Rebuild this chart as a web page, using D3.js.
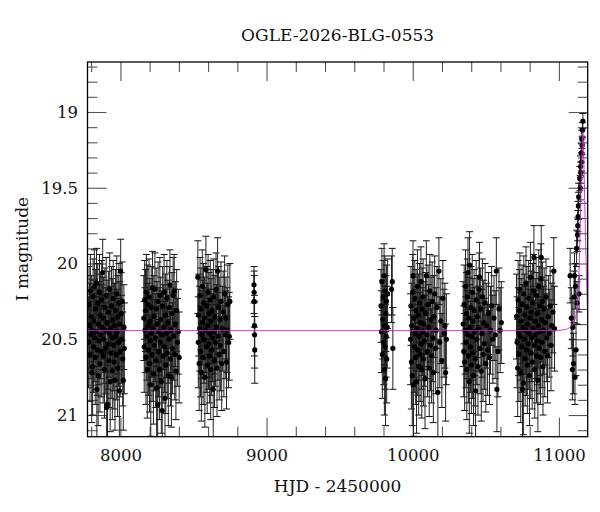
<!DOCTYPE html>
<html>
<head>
<meta charset="utf-8">
<script src="https://cdn.jsdelivr.net/npm/d3@7"></script>
<style>
  body { margin: 0; background: #fff; }
  text { font-family: "DejaVu Serif", serif; fill: #111; }
</style>
</head>
<body>
<svg width="600" height="512"></svg>
<script>
// Light curve: [HJD - 2450000, I mag, error] per observing season
const season2017 = [
  [7783, 20.52, 0.30], [7786, 20.27, 0.25], [7789, 20.41, 0.28], [7792, 20.60, 0.31], [7795, 20.18, 0.24],
  [7798, 20.47, 0.29], [7801, 20.35, 0.27], [7804, 20.72, 0.33], [7807, 20.44, 0.28], [7810, 20.68, 0.32],
  [7813, 20.22, 0.25], [7816, 20.55, 0.30], [7819, 20.38, 0.27], [7822, 20.15, 0.24], [7825, 20.49, 0.29],
  [7828, 20.62, 0.31], [7831, 20.30, 0.26], [7834, 20.45, 0.28], [7837, 20.13, 0.23], [7839, 20.83, 0.34],
  [7842, 20.57, 0.30], [7845, 20.26, 0.26], [7848, 20.74, 0.33], [7851, 20.40, 0.28], [7854, 20.51, 0.29],
  [7857, 20.19, 0.25], [7860, 20.66, 0.32], [7863, 20.34, 0.27], [7866, 20.47, 0.29], [7869, 20.58, 0.30],
  [7872, 20.24, 0.26], [7875, 20.42, 0.28], [7879, 20.06, 0.22], [7882, 20.61, 0.31], [7885, 20.36, 0.27],
  [7888, 20.50, 0.29], [7891, 20.70, 0.32], [7894, 20.29, 0.26], [7897, 20.44, 0.28], [7900, 20.56, 0.30],
  [7903, 20.21, 0.25], [7906, 20.95, 0.36], [7909, 20.39, 0.28], [7912, 20.93, 0.35], [7915, 20.53, 0.30],
  [7918, 20.32, 0.27], [7921, 20.64, 0.31], [7924, 20.46, 0.29], [7927, 20.17, 0.24], [7930, 20.78, 0.33],
  [7933, 20.43, 0.28], [7936, 20.59, 0.30], [7939, 20.28, 0.26], [7942, 20.49, 0.29], [7945, 20.71, 0.32],
  [7948, 20.37, 0.27], [7951, 20.23, 0.25], [7954, 20.54, 0.30], [7957, 20.65, 0.31], [7960, 20.41, 0.28],
  [7963, 20.77, 0.33], [7966, 20.31, 0.27], [7969, 20.48, 0.29], [7972, 20.60, 0.30], [7975, 20.20, 0.25],
  [7978, 20.45, 0.28], [7981, 20.69, 0.32], [7984, 20.35, 0.27], [7987, 20.52, 0.29], [7990, 20.26, 0.26],
  [7993, 20.84, 0.34], [7996, 20.40, 0.28], [7999, 20.58, 0.30], [8002, 20.05, 0.21], [8005, 20.33, 0.27],
  [8008, 20.50, 0.29], [8012, 20.25, 0.26], [8016, 20.63, 0.31], [8020, 20.77, 0.33], [8024, 20.42, 0.28],
  [8027, 20.56, 0.30]
];
const season2018 = [
  [8160, 20.36, 0.28], [8163, 20.55, 0.30], [8166, 20.24, 0.26], [8169, 20.44, 0.28], [8172, 20.31, 0.27],
  [8175, 20.62, 0.31], [8178, 20.19, 0.25], [8181, 20.48, 0.29], [8184, 20.70, 0.32], [8187, 20.27, 0.26],
  [8190, 20.41, 0.28], [8193, 20.57, 0.30], [8196, 20.22, 0.25], [8199, 20.66, 0.32], [8202, 20.38, 0.28],
  [8205, 20.51, 0.29], [8208, 20.80, 0.34], [8211, 20.29, 0.27], [8214, 20.46, 0.29], [8217, 20.60, 0.31],
  [8220, 20.16, 0.24], [8223, 20.43, 0.28], [8226, 20.73, 0.33], [8229, 20.35, 0.27], [8232, 20.54, 0.30],
  [8236, 20.17, 0.24], [8239, 20.49, 0.29], [8242, 20.64, 0.31], [8245, 20.30, 0.27], [8248, 20.82, 0.34],
  [8251, 20.40, 0.28], [8255, 20.93, 0.36], [8258, 20.25, 0.26], [8261, 20.58, 0.30], [8264, 20.45, 0.29],
  [8267, 20.70, 0.33], [8270, 20.21, 0.25], [8273, 20.52, 0.30], [8276, 20.37, 0.28], [8280, 20.78, 0.34],
  [8283, 20.47, 0.29], [8286, 20.97, 0.37], [8289, 20.28, 0.26], [8292, 20.61, 0.31], [8296, 20.42, 0.28],
  [8299, 20.19, 0.25], [8302, 20.55, 0.30], [8305, 20.89, 0.35], [8308, 20.34, 0.27], [8311, 20.67, 0.32],
  [8315, 20.46, 0.29], [8318, 20.23, 0.25], [8321, 20.59, 0.30], [8325, 20.39, 0.28], [8328, 20.74, 0.33],
  [8332, 20.50, 0.29], [8335, 20.29, 0.27], [8339, 20.14, 0.23], [8342, 20.63, 0.31], [8346, 20.44, 0.28],
  [8349, 20.75, 0.33], [8353, 20.33, 0.27], [8357, 20.56, 0.30], [8361, 20.21, 0.25], [8365, 20.48, 0.29],
  [8368, 20.18, 0.24], [8372, 20.60, 0.30], [8376, 20.40, 0.28], [8380, 20.71, 0.32], [8385, 20.31, 0.27],
  [8390, 20.52, 0.29], [8396, 20.45, 0.28], [8402, 20.62, 0.30]
];
const season2019 = [
  [8530, 20.09, 0.24], [8533, 20.52, 0.30], [8536, 20.34, 0.27], [8539, 20.66, 0.31], [8542, 20.43, 0.28],
  [8545, 20.21, 0.25], [8548, 20.58, 0.30], [8551, 20.30, 0.27], [8554, 20.72, 0.32], [8557, 20.47, 0.29],
  [8560, 20.15, 0.24], [8563, 20.39, 0.28], [8566, 20.62, 0.31], [8569, 20.26, 0.26], [8572, 20.50, 0.29],
  [8575, 20.36, 0.27], [8578, 20.75, 0.33], [8581, 20.44, 0.28], [8585, 20.04, 0.22], [8588, 20.55, 0.30],
  [8591, 20.28, 0.26], [8594, 20.67, 0.32], [8597, 20.41, 0.28], [8600, 20.19, 0.25], [8603, 20.53, 0.30],
  [8606, 20.33, 0.27], [8609, 20.61, 0.31], [8612, 20.46, 0.29], [8615, 20.24, 0.26], [8618, 20.70, 0.33],
  [8621, 20.38, 0.28], [8624, 20.57, 0.30], [8627, 20.31, 0.27], [8630, 20.49, 0.29], [8635, 20.83, 0.35],
  [8638, 20.22, 0.25], [8641, 20.45, 0.28], [8644, 20.64, 0.31], [8647, 20.35, 0.27], [8650, 20.52, 0.29],
  [8654, 20.17, 0.24], [8657, 20.42, 0.28], [8661, 20.69, 0.32], [8665, 20.05, 0.22], [8668, 20.48, 0.29],
  [8672, 20.29, 0.27], [8676, 20.60, 0.30], [8680, 20.37, 0.28], [8684, 20.54, 0.30], [8688, 20.25, 0.26],
  [8693, 20.66, 0.31], [8698, 20.43, 0.28], [8703, 20.32, 0.27], [8708, 20.58, 0.30], [8713, 20.20, 0.25],
  [8718, 20.47, 0.29], [8722, 20.36, 0.27], [8726, 20.65, 0.31], [8730, 20.44, 0.28], [8735, 20.27, 0.26],
  [8740, 20.52, 0.30], [8745, 20.48, 0.29], [8749, 20.25, 0.25]
];
const season2020 = [
  [8914, 20.14, 0.12], [8915, 20.19, 0.14], [8916, 20.25, 0.17], [8917, 20.41, 0.20], [8918, 20.47, 0.22],
  [8919, 20.57, 0.22]
];
const season2022 = [
  [9783, 20.28, 0.24], [9786, 20.45, 0.27], [9789, 20.12, 0.22], [9792, 20.60, 0.29], [9795, 20.37, 0.26],
  [9798, 20.22, 0.24], [9801, 20.52, 0.28], [9804, 20.08, 0.21], [9806, 20.70, 0.30], [9808, 20.41, 0.26],
  [9810, 20.18, 0.23], [9812, 20.55, 0.28], [9814, 20.76, 0.31], [9816, 20.33, 0.25], [9818, 20.48, 0.27],
  [9820, 20.25, 0.24], [9822, 20.63, 0.29], [9825, 20.42, 0.27], [9828, 20.20, 0.23], [9855, 20.17, 0.22],
  [9860, 20.12, 0.22], [9864, 20.56, 0.27]
];
const season2023 = [
  [9985, 20.50, 0.30], [9988, 20.28, 0.26], [9991, 20.65, 0.31], [9994, 20.41, 0.28], [9997, 20.74, 0.33],
  [10000, 20.19, 0.25], [10002, 20.08, 0.23], [10005, 20.80, 0.34], [10008, 20.36, 0.27], [10011, 20.55, 0.30],
  [10014, 20.23, 0.25], [10017, 20.46, 0.29], [10020, 20.62, 0.31], [10023, 20.31, 0.27], [10026, 20.78, 0.34],
  [10029, 20.43, 0.28], [10032, 20.15, 0.24], [10035, 20.57, 0.30], [10038, 20.34, 0.27], [10041, 20.68, 0.32],
  [10044, 20.48, 0.29], [10047, 20.26, 0.26], [10050, 20.60, 0.31], [10053, 20.39, 0.28], [10056, 20.12, 0.23],
  [10059, 20.53, 0.30], [10062, 20.70, 0.32], [10065, 20.30, 0.27], [10068, 20.45, 0.29], [10071, 20.22, 0.25],
  [10074, 20.63, 0.31], [10077, 20.40, 0.28], [10080, 20.51, 0.30], [10084, 20.76, 0.33], [10088, 20.33, 0.27],
  [10093, 20.08, 0.23], [10097, 20.47, 0.29], [10101, 20.58, 0.30], [10105, 20.27, 0.26], [10109, 20.42, 0.28],
  [10113, 20.69, 0.32], [10117, 20.18, 0.24], [10121, 20.54, 0.30], [10125, 20.37, 0.28], [10129, 20.61, 0.31],
  [10133, 20.25, 0.26], [10137, 20.49, 0.29], [10141, 20.72, 0.33], [10145, 20.35, 0.27], [10150, 20.20, 0.25],
  [10155, 20.56, 0.30], [10160, 20.44, 0.28], [10166, 20.29, 0.27], [10172, 20.85, 0.35], [10179, 20.05, 0.22],
  [10185, 20.52, 0.30], [10192, 20.38, 0.28], [10199, 20.64, 0.31], [10206, 20.23, 0.25], [10214, 20.46, 0.29],
  [10220, 20.41, 0.28], [10225, 20.72, 0.32], [10230, 20.50, 0.30]
];
const season2024 = [
  [10345, 20.40, 0.28], [10349, 20.58, 0.30], [10352, 20.27, 0.26], [10355, 20.65, 0.32], [10358, 20.44, 0.29],
  [10361, 20.15, 0.24], [10364, 20.52, 0.30], [10367, 20.33, 0.27], [10370, 20.70, 0.33], [10373, 20.22, 0.25],
  [10376, 20.47, 0.29], [10378, 20.06, 0.23], [10381, 20.61, 0.31], [10384, 20.36, 0.27], [10387, 20.78, 0.34],
  [10389, 20.01, 0.22], [10392, 20.42, 0.28], [10395, 20.55, 0.30], [10398, 20.29, 0.27], [10401, 20.67, 0.32],
  [10404, 20.48, 0.29], [10407, 20.19, 0.25], [10410, 20.59, 0.30], [10413, 20.38, 0.28], [10416, 20.74, 0.33],
  [10420, 20.31, 0.27], [10424, 20.45, 0.29], [10427, 20.63, 0.31], [10430, 20.84, 0.35], [10434, 20.24, 0.26],
  [10438, 20.50, 0.30], [10442, 20.35, 0.27], [10446, 20.68, 0.32], [10450, 20.43, 0.28], [10454, 20.17, 0.24],
  [10457, 20.09, 0.23], [10461, 20.56, 0.30], [10465, 20.30, 0.27], [10469, 20.71, 0.33], [10473, 20.46, 0.29],
  [10477, 20.22, 0.25], [10481, 20.60, 0.31], [10485, 20.39, 0.28], [10490, 20.53, 0.30], [10495, 20.26, 0.26],
  [10500, 20.66, 0.32], [10506, 20.41, 0.28], [10512, 20.57, 0.30], [10518, 20.33, 0.27], [10525, 20.62, 0.31],
  [10532, 20.44, 0.29], [10540, 20.28, 0.26], [10548, 20.50, 0.29], [10556, 20.36, 0.28], [10564, 20.47, 0.29],
  [10572, 20.05, 0.22], [10576, 20.83, 0.28], [10583, 20.58, 0.30], [10590, 20.30, 0.27], [10598, 20.44, 0.28],
  [10606, 20.39, 0.27]
];
const season2025 = [
  [10710, 20.35, 0.28], [10714, 20.52, 0.30], [10718, 20.69, 0.32], [10721, 20.24, 0.26], [10724, 20.45, 0.29],
  [10727, 20.60, 0.31], [10730, 20.31, 0.27], [10733, 20.17, 0.24], [10736, 20.48, 0.29], [10739, 20.72, 0.33],
  [10742, 20.38, 0.28], [10745, 20.55, 0.30], [10748, 20.27, 0.26], [10751, 20.83, 0.35], [10754, 20.42, 0.28],
  [10757, 20.79, 0.34], [10760, 20.20, 0.25], [10763, 20.50, 0.29], [10766, 20.34, 0.27], [10769, 20.63, 0.31],
  [10772, 20.44, 0.29], [10775, 20.13, 0.24], [10778, 20.57, 0.30], [10781, 20.29, 0.27], [10784, 20.67, 0.32],
  [10787, 20.40, 0.28], [10790, 20.53, 0.30], [10793, 20.23, 0.25], [10796, 20.46, 0.29], [10799, 20.74, 0.33],
  [10802, 20.36, 0.27], [10805, 20.09, 0.23], [10808, 20.59, 0.30], [10811, 20.32, 0.27], [10814, 20.49, 0.29],
  [10817, 20.65, 0.31], [10820, 20.26, 0.26], [10823, 20.43, 0.28], [10826, 20.18, 0.24], [10829, 19.96, 0.21],
  [10832, 20.54, 0.30], [10835, 20.70, 0.32], [10838, 20.38, 0.28], [10841, 20.47, 0.29], [10844, 20.21, 0.25],
  [10847, 20.61, 0.31], [10850, 20.33, 0.27], [10853, 20.51, 0.29], [10856, 20.77, 0.34], [10859, 20.41, 0.28],
  [10862, 20.15, 0.24], [10865, 20.56, 0.30], [10868, 20.28, 0.26], [10871, 20.45, 0.29], [10874, 20.62, 0.31],
  [10877, 20.10, 0.23], [10879, 19.96, 0.21], [10882, 20.37, 0.28], [10885, 20.52, 0.30], [10888, 20.25, 0.26],
  [10891, 20.68, 0.32], [10895, 20.44, 0.29], [10899, 20.30, 0.27], [10903, 20.58, 0.30], [10907, 20.39, 0.28],
  [10912, 20.22, 0.25], [10917, 20.49, 0.29], [10922, 20.61, 0.31], [10928, 20.35, 0.27], [10934, 20.46, 0.29],
  [10940, 20.28, 0.26], [10946, 20.54, 0.30], [10952, 20.41, 0.28], [10959, 20.32, 0.27], [10965, 20.05, 0.22],
  [10970, 20.43, 0.28]
];
const season2026 = [
  [11077, 20.08, 0.18], [11085, 20.36, 0.20], [11092, 20.70, 0.20], [11095, 20.42, 0.19], [11100, 20.66, 0.20],
  [11104, 20.22, 0.17], [11107, 20.08, 0.15], [11110, 20.75, 0.18], [11113, 20.15, 0.15], [11117, 20.57, 0.17],
  [11121, 19.90, 0.12], [11124, 20.26, 0.14], [11127, 19.81, 0.11], [11129, 19.75, 0.10], [11131, 19.69, 0.10],
  [11133, 19.62, 0.09], [11135, 19.56, 0.09], [11138, 20.20, 0.12], [11143, 19.44, 0.08], [11146, 19.50, 0.08],
  [11148, 19.36, 0.07], [11150, 19.40, 0.07], [11153, 19.27, 0.06], [11155, 19.33, 0.06], [11157, 19.18, 0.06],
  [11159, 19.22, 0.06], [11161, 19.12, 0.05], [11164, 19.06, 0.05]
];

// Model curve: [HJD - 2450000, I mag]
const modelCurve = [
  [7775, 20.443], [10950, 20.443], [11030, 20.438], [11070, 20.425], [11095, 20.405], [11110, 20.37],
  [11120, 20.32], [11128, 20.24], [11134, 20.15], [11140, 19.98], [11146, 19.74], [11152, 19.50],
  [11158, 19.28], [11163, 19.13], [11167, 19.18], [11172, 19.38], [11178, 19.65], [11186, 19.98],
  [11195, 20.30]
];

const xMajor = [8000, 9000, 10000, 11000];
const yMajor = [19, 19.5, 20, 20.5, 21];
const title = "OGLE-2026-BLG-0553";

const width = 600;
const height = 512;
const margin = { top: 62, right: 12.3, bottom: 75.3, left: 87.5 };
const innerW = width - margin.left - margin.right;
const innerH = height - margin.top - margin.bottom;

const x = d3.scaleLinear().domain([7775, 11197]).range([0, innerW]);
// magnitudes: bright at the top
const y = d3.scaleLinear().domain([18.67, 21.143]).range([0, innerH]);

const svg = d3.select("svg");
const g = svg.append("g").attr("transform", `translate(${margin.left},${margin.top})`);

const points = [].concat(season2017, season2018, season2019, season2020, season2022,
  season2023, season2024, season2025, season2026);

drawAxes();
drawPoints();
drawModel();
drawLabels();

function drawAxes() {
  const xMinor = d3.range(7800, 11200, 200).filter(v => !xMajor.includes(v));
  const yMinor = d3.range(187, 212).map(v => v / 10).filter(v => !yMajor.includes(v));

  const addAxis = (axis, transform, labels) => {
    const a = g.append("g").attr("transform", transform).call(axis);
    a.select(".domain").remove();
    a.selectAll(".tick line").attr("stroke", "#555").attr("stroke-width", 1.1);
    if (!labels) a.selectAll("text").remove();
    else a.selectAll("text")
      .attr("font-family", "DejaVu Serif, serif")
      .attr("font-size", 16.5)
      .attr("fill", "#111");
    return a;
  };

  // ticks point inward on every side
  addAxis(d3.axisBottom(x).tickValues(xMajor).tickSize(-19).tickPadding(13).tickFormat(d3.format("d")),
    `translate(0,${innerH})`, true);
  addAxis(d3.axisBottom(x).tickValues(xMinor).tickSize(-10), `translate(0,${innerH})`, false);
  addAxis(d3.axisTop(x).tickValues(xMajor).tickSize(-19), "translate(0,0)", false);
  addAxis(d3.axisTop(x).tickValues(xMinor).tickSize(-10), "translate(0,0)", false);

  addAxis(d3.axisLeft(y).tickValues(yMajor).tickSize(-19).tickPadding(9.5).tickFormat(d => String(d)),
    "translate(0,0)", true);
  addAxis(d3.axisLeft(y).tickValues(yMinor).tickSize(-10), "translate(0,0)", false);
  addAxis(d3.axisRight(y).tickValues(yMajor).tickSize(-19), `translate(${innerW},0)`, false);
  addAxis(d3.axisRight(y).tickValues(yMinor).tickSize(-10), `translate(${innerW},0)`, false);

  g.append("clipPath").attr("id", "plot-clip")
    .append("rect").attr("width", innerW).attr("height", innerH);
}

function drawPoints() {
  const layer = g.append("g").attr("clip-path", "url(#plot-clip)");
  const capW = 3.5;

  const bars = layer.selectAll("g.err").data(points).enter().append("g").attr("class", "err");
  bars.append("line")
    .attr("x1", d => x(d[0])).attr("x2", d => x(d[0]))
    .attr("y1", d => y(d[1] - d[2])).attr("y2", d => y(d[1] + d[2]))
    .attr("stroke", "#222").attr("stroke-width", 1);
  bars.append("line")
    .attr("x1", d => x(d[0]) - capW).attr("x2", d => x(d[0]) + capW)
    .attr("y1", d => y(d[1] - d[2])).attr("y2", d => y(d[1] - d[2]))
    .attr("stroke", "#111").attr("stroke-width", 1);
  bars.append("line")
    .attr("x1", d => x(d[0]) - capW).attr("x2", d => x(d[0]) + capW)
    .attr("y1", d => y(d[1] + d[2])).attr("y2", d => y(d[1] + d[2]))
    .attr("stroke", "#111").attr("stroke-width", 1);

  layer.selectAll("circle").data(points).enter().append("circle")
    .attr("cx", d => x(d[0]))
    .attr("cy", d => y(d[1]))
    .attr("r", 2.6)
    .attr("fill", "#000");
}

function drawModel() {
  const line = d3.line()
    .x(d => x(d[0]))
    .y(d => y(d[1]))
    .curve(d3.curveMonotoneX);
  g.append("path")
    .attr("clip-path", "url(#plot-clip)")
    .attr("d", line(modelCurve))
    .attr("fill", "none")
    .attr("stroke", "#cc22cc")
    .attr("stroke-width", 0.9);

  // frame on top
  g.append("rect")
    .attr("width", innerW).attr("height", innerH)
    .attr("fill", "none").attr("stroke", "#000").attr("stroke-width", 1.3);
}

function drawLabels() {
  svg.append("text")
    .attr("x", margin.left + innerW / 2).attr("y", 40.7)
    .attr("text-anchor", "middle").attr("font-size", 17)
    .text(title);
  svg.append("text")
    .attr("x", margin.left + innerW / 2).attr("y", 491.7)
    .attr("text-anchor", "middle").attr("font-size", 17)
    .text("HJD - 2450000");
  svg.append("text")
    .attr("transform", "translate(28,249) rotate(-90)")
    .attr("text-anchor", "middle").attr("font-size", 17)
    .text("I magnitude");
}
</script>
</body>
</html>
